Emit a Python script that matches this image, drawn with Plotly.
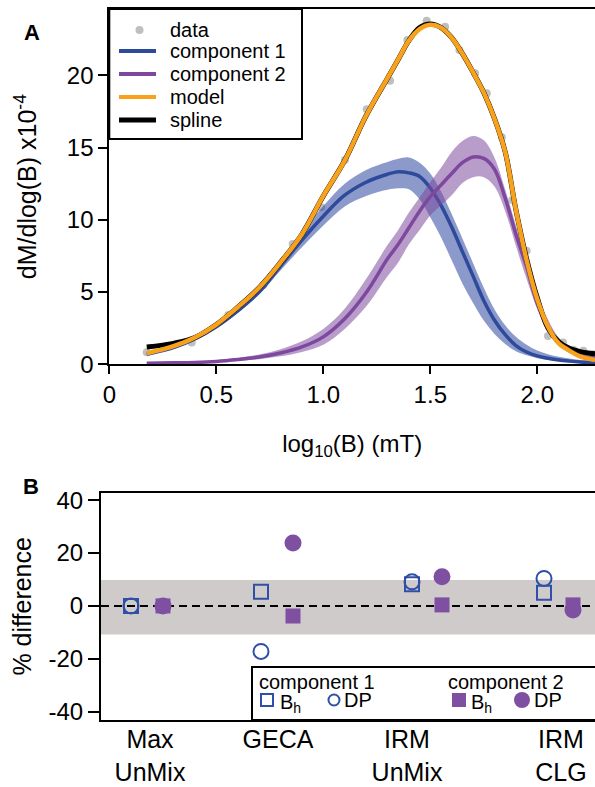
import plotly.graph_objects as go

# ---------------- Panel A: unmixing of the coercivity spectrum ----------------
# measured gradient points (log10 field in mT, dM/dlogB x1e-4)
data_x = [0.175, 0.385, 0.556, 0.72, 0.857, 0.99, 1.101, 1.203, 1.312, 1.393, 1.483,
          1.569, 1.636, 1.709, 1.764, 1.834, 1.883, 1.95, 2.05, 2.12, 2.17, 2.215, 2.26]
data_y = [0.83, 1.5, 3.41, 5.49, 8.33, 10.86, 14.14, 17.65, 19.63, 22.44, 23.78,
          23.36, 21.75, 20.14, 18.75, 15.71, 11.37, 7.86, 1.96, 1.5, 0.99, 0.94, 0.7]

# common abscissa for the fitted curves
curve_x = [0.175, 0.3, 0.4, 0.5, 0.6, 0.7, 0.8, 0.9, 1.0, 1.1, 1.2, 1.3, 1.35, 1.4, 1.45,
           1.5, 1.55, 1.6, 1.65, 1.7, 1.75, 1.8, 1.85, 1.9, 1.95, 2.0, 2.05, 2.1, 2.15, 2.2, 2.27]

comp1_mid = [0.70, 1.15, 1.75, 2.6, 3.7, 5.0, 6.8, 8.6, 10.25, 11.7, 12.6, 13.15, 13.33, 13.25, 13.0,
             12.2, 11.0, 9.5, 7.8, 6.1, 4.4, 3.05, 2.05, 1.3, 0.85, 0.58, 0.42, 0.3, 0.22, 0.16, 0.11]
comp1_hi = [0.75, 1.2, 1.8, 2.7, 3.85, 5.25, 7.25, 9.15, 10.95, 12.5, 13.45, 14.0, 14.22, 14.32, 13.95,
            13.2, 11.95, 10.4, 8.7, 7.0, 5.3, 3.8, 2.7, 1.9, 1.35, 0.95, 0.7, 0.52, 0.4, 0.3, 0.2]
comp1_lo = [0.65, 1.1, 1.7, 2.5, 3.55, 4.85, 6.5, 8.1, 9.6, 10.92, 11.65, 12.08, 12.18, 12.12, 11.42,
            10.18, 8.8, 7.2, 5.6, 4.25, 3.03, 2.1, 1.4, 0.9, 0.62, 0.42, 0.3, 0.22, 0.15, 0.11, 0.07]

comp2_mid = [0.08, 0.1, 0.13, 0.2, 0.33, 0.5, 0.78, 1.2, 1.9, 3.15, 4.95, 7.3, 8.3, 9.45, 10.6,
             11.6, 12.4, 13.2, 13.95, 14.35, 14.25, 13.5, 11.5, 9.0, 6.75, 4.2, 2.6, 1.45, 0.95, 0.62, 0.41]
comp2_hi = [0.1, 0.12, 0.17, 0.27, 0.43, 0.68, 1.05, 1.6, 2.45, 3.85, 5.9, 8.25, 9.3, 10.5, 11.55,
            12.6, 13.6, 14.7, 15.45, 15.8, 15.5, 14.3, 12.1, 9.6, 7.2, 4.8, 3.1, 1.85, 1.2, 0.8, 0.5]
comp2_lo = [0.06, 0.07, 0.09, 0.13, 0.22, 0.35, 0.55, 0.85, 1.35, 2.45, 4.0, 6.1, 7.05, 8.3, 9.3,
            10.3, 11.0, 11.7, 12.55, 12.95, 12.95, 12.3, 10.6, 8.2, 5.9, 3.8, 2.2, 1.3, 0.8, 0.5, 0.35]

model_y = [0.76, 1.25, 1.85, 2.75, 3.95, 5.3, 7.05, 9.0, 11.65, 14.1, 17.2, 19.8, 21.1, 22.4, 23.2,
           23.5, 23.3, 22.6, 21.5, 20.2, 18.8, 17.0, 14.7, 10.7, 7.2, 4.5, 2.6, 1.45, 0.95, 0.55, 0.3]

spline_y = [1.2, 1.45, 1.85, 2.75, 3.95, 5.3, 7.05, 9.0, 11.65, 14.1, 17.2, 19.8, 21.1, 22.4, 23.3,
            23.55, 23.3, 22.6, 21.5, 20.2, 18.8, 17.0, 14.7, 10.7, 7.3, 4.6, 2.5, 1.55, 1.1, 0.88, 0.72]

x_ticks_a = [0, 0.5, 1.0, 1.5, 2.0]
x_ticklabels_a = ["0", "0.5", "1.0", "1.5", "2.0"]
y_ticks_a = [0, 5, 10, 15, 20]

# ---------------- Panel B: % difference of fitted parameters ----------------
methods = ["Max<br>UnMix", "GECA", "IRM<br>UnMix", "IRM<br>CLG"]
comp1_bh = [0.0, 5.4, 8.2, 5.0]
comp1_dp = [0.0, -17.2, 9.1, 10.4]
comp2_bh = [0.0, -3.8, 0.4, 0.4]
comp2_dp = [0.0, 23.8, 11.0, -1.5]
band_b = [-10.8, 9.8]
y_ticks_b = [-40, -20, 0, 20, 40]
y_ticklabels_b = ["-40", "-20", "0", "20", "40"]

# horizontal placement of the method groups on panel B's x axis
label_pos = [0.49, 1.77, 3.06, 4.60]
open_pos = [0.30, 1.60, 3.11, 4.43]
filled_pos = [0.62, 1.92, 3.41, 4.72]

# ---------------- styling ----------------
W, H = 595, 787
FONT = "Liberation Sans, Arial, Helvetica, sans-serif"
BLUE = "#2E4A9B"
BLUE_BAND = "rgba(46,70,160,0.55)"
PURPLE = "#7E489E"
PURPLE_BAND = "rgba(126,74,158,0.55)"
ORANGE = "#F8A11B"
GRAY = "#BFBFBF"
B_BLUE = "#2F4FA8"
B_PURPLE = "#7F4FA2"


def fx(p):
    return p / W


def fy(p):
    return 1 - p / H


fig = go.Figure()

fig.add_trace(go.Scatter(x=data_x, y=data_y, mode="markers", name="data",
                         marker=dict(size=8, color=GRAY), xaxis="x", yaxis="y"))

fig.add_trace(go.Scatter(x=curve_x + curve_x[::-1], y=comp1_hi + comp1_lo[::-1],
                         fill="toself", fillcolor=BLUE_BAND, mode="lines",
                         line=dict(width=0, shape="spline"), hoverinfo="skip",
                         showlegend=False, xaxis="x", yaxis="y"))
fig.add_trace(go.Scatter(x=curve_x, y=comp1_mid, mode="lines", name="component 1",
                         line=dict(color=BLUE, width=3.5, shape="spline"), xaxis="x", yaxis="y"))

fig.add_trace(go.Scatter(x=curve_x + curve_x[::-1], y=comp2_hi + comp2_lo[::-1],
                         fill="toself", fillcolor=PURPLE_BAND, mode="lines",
                         line=dict(width=0, shape="spline"), hoverinfo="skip",
                         showlegend=False, xaxis="x", yaxis="y"))
fig.add_trace(go.Scatter(x=curve_x, y=comp2_mid, mode="lines", name="component 2",
                         line=dict(color=PURPLE, width=3.5, shape="spline"), xaxis="x", yaxis="y"))

fig.add_trace(go.Scatter(x=curve_x, y=spline_y, mode="lines", name="spline",
                         line=dict(color="black", width=5, shape="spline"), xaxis="x", yaxis="y"))
fig.add_trace(go.Scatter(x=curve_x, y=model_y, mode="lines", name="model",
                         line=dict(color=ORANGE, width=4.5, shape="spline"), xaxis="x", yaxis="y"))

# panel B markers
fig.add_trace(go.Scatter(x=open_pos, y=comp1_bh, mode="markers", name="component 1 Bh",
                         marker=dict(symbol="square-open", size=14, color=B_BLUE, line=dict(width=2)),
                         cliponaxis=False, xaxis="x2", yaxis="y2"))
fig.add_trace(go.Scatter(x=open_pos, y=comp1_dp, mode="markers", name="component 1 DP",
                         marker=dict(symbol="circle-open", size=15, color=B_BLUE, line=dict(width=2)),
                         cliponaxis=False, xaxis="x2", yaxis="y2"))
fig.add_trace(go.Scatter(x=filled_pos, y=comp2_bh, mode="markers", name="component 2 Bh",
                         marker=dict(symbol="square", size=15, color=B_PURPLE),
                         cliponaxis=False, xaxis="x2", yaxis="y2"))
fig.add_trace(go.Scatter(x=filled_pos, y=comp2_dp, mode="markers", name="component 2 DP",
                         marker=dict(symbol="circle", size=17, color=B_PURPLE),
                         cliponaxis=False, xaxis="x2", yaxis="y2"))

shapes = []
annotations = []

# panel B background band and zero line
shapes.append(dict(type="rect", xref="x2 domain", yref="y2", x0=0, x1=1,
                   y0=band_b[0], y1=band_b[1], fillcolor="#CFCBCB", line=dict(width=0), layer="below"))
shapes.append(dict(type="line", xref="x2 domain", yref="y2", x0=0, x1=1, y0=0, y1=0,
                   line=dict(color="black", width=2, dash="8px,5px"), layer="below"))

# ---- panel A legend ----
shapes.append(dict(type="rect", xref="paper", yref="paper", x0=fx(109.3), x1=fx(302),
                   y0=fy(139), y1=fy(9), fillcolor="white", line=dict(color="black", width=2),
                   layer="above"))
legend_a = [("data", None, 30), ("component 1", BLUE, 51), ("component 2", PURPLE, 74),
            ("model", ORANGE, 97), ("spline", "black", 120)]
for label, col, yy in legend_a:
    if col is None:
        shapes.append(dict(type="circle", xref="paper", yref="paper",
                           x0=fx(135.5), x1=fx(143.5), y0=fy(yy + 4), y1=fy(yy - 4),
                           fillcolor=GRAY, line=dict(width=0), layer="above"))
    else:
        shapes.append(dict(type="line", xref="paper", yref="paper",
                           x0=fx(119), x1=fx(156), y0=fy(yy), y1=fy(yy),
                           line=dict(color=col, width=4 if label != "spline" else 5), layer="above"))
    annotations.append(dict(text=label, xref="paper", yref="paper", x=fx(168), y=fy(yy),
                            xanchor="left", yanchor="middle", showarrow=False,
                            font=dict(family=FONT, size=20, color="black")))

# ---- panel B legend ----
shapes.append(dict(type="rect", xref="paper", yref="paper", x0=fx(252), x1=fx(605),
                   y0=fy(720), y1=fy(667), fillcolor="white", line=dict(color="black", width=2),
                   layer="above"))
shapes.append(dict(type="rect", xref="paper", yref="paper", x0=fx(261), x1=fx(273),
                   y0=fy(706), y1=fy(694), fillcolor="rgba(0,0,0,0)",
                   line=dict(color=B_BLUE, width=2), layer="above"))
shapes.append(dict(type="circle", xref="paper", yref="paper", x0=fx(328.5), x1=fx(339.5),
                   y0=fy(705.5), y1=fy(694.5), fillcolor="rgba(0,0,0,0)",
                   line=dict(color=B_BLUE, width=2), layer="above"))
shapes.append(dict(type="rect", xref="paper", yref="paper", x0=fx(452), x1=fx(466),
                   y0=fy(707), y1=fy(693), fillcolor=B_PURPLE, line=dict(width=0), layer="above"))
shapes.append(dict(type="circle", xref="paper", yref="paper", x0=fx(514), x1=fx(530),
                   y0=fy(708), y1=fy(692), fillcolor=B_PURPLE, line=dict(width=0), layer="above"))
for txt, px, py in [("component 1", 257, 682), ("B<sub>h</sub>", 278, 703), ("DP", 342, 700),
                    ("component 2", 446, 682), ("B<sub>h</sub>", 469, 703), ("DP", 532, 700)]:
    annotations.append(dict(text=txt, xref="paper", yref="paper", x=fx(px), y=fy(py),
                            xanchor="left", yanchor="middle", showarrow=False,
                            font=dict(family=FONT, size=20, color="black")))

# panel letters
annotations.append(dict(text="<b>A</b>", xref="paper", yref="paper", x=fx(32), y=fy(32),
                        xanchor="center", yanchor="middle", showarrow=False,
                        font=dict(family=FONT, size=22, color="black")))
annotations.append(dict(text="<b>B</b>", xref="paper", yref="paper", x=fx(31), y=fy(486),
                        xanchor="center", yanchor="middle", showarrow=False,
                        font=dict(family=FONT, size=22, color="black")))

axis_common = dict(showgrid=False, zeroline=False, linecolor="black", linewidth=2,
                   tickcolor="black", tickwidth=2, automargin=False,
                   tickfont=dict(family=FONT, size=24, color="black"))

fig.update_layout(
    width=W, height=H,
    margin=dict(l=0, r=0, t=0, b=0),
    paper_bgcolor="white", plot_bgcolor="white",
    showlegend=False,
    font=dict(family=FONT, color="black"),
    xaxis=dict(axis_common, domain=[fx(109.3), 1], range=[0, (W - 109.3) / 214],
               showline=True, mirror=True, ticks="outside", ticklen=8,
               tickvals=x_ticks_a, ticktext=x_ticklabels_a, anchor="y",
               title=dict(text="log<sub>10</sub>(B) (mT)", standoff=28,
                          font=dict(family=FONT, size=24, color="black"))),
    yaxis=dict(axis_common, domain=[fy(364.3), fy(9)], range=[0, (364.3 - 9) / 14.45],
               showline=True, ticks="outside", ticklen=9, tickvals=y_ticks_a, anchor="x",
               title=dict(text="dM/dlog(B) x10<sup>-4</sup>", standoff=23,
                          font=dict(family=FONT, size=25, color="black"))),
    xaxis2=dict(axis_common, domain=[fx(101), 1], range=[0, (W - 101) / 100],
                showline=True, mirror=True, ticks="", ticklen=0, ticklabelstandoff=-4,
                tickvals=label_pos, ticktext=methods, anchor="y2",
                tickfont=dict(family=FONT, size=25, color="black")),
    yaxis2=dict(axis_common, domain=[fy(720), fy(492.7)], range=[-43.1, 42.8],
                showline=True, ticks="outside", ticklen=11, anchor="x2",
                tickvals=y_ticks_b, ticktext=y_ticklabels_b,
                title=dict(text="% difference", standoff=10,
                           font=dict(family=FONT, size=25, color="black"))),
    shapes=shapes,
    annotations=annotations,
)

fig.write_html("out.html")
